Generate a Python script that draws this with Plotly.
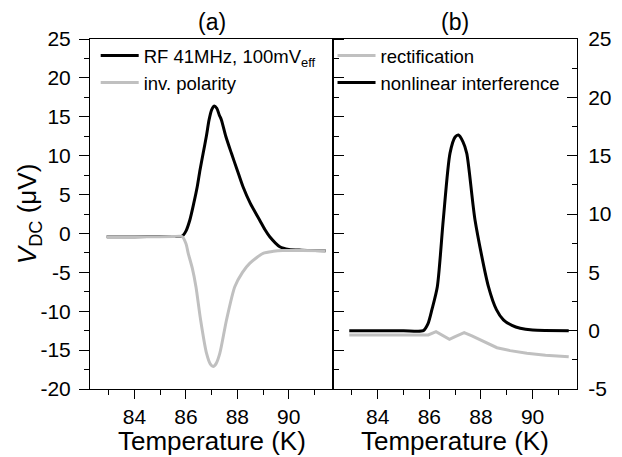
import plotly.graph_objects as go

# ---------------- data ----------------
# panel (a)
a_rf_T = [82.92, 83.5, 84.5, 85.5, 85.85, 86.0, 86.15, 86.3, 86.44, 86.55, 86.67, 86.8, 86.9,
          87.0, 87.1, 87.2, 87.3, 87.38, 87.55, 87.77, 88.0, 88.22, 88.5, 88.87, 89.07, 89.26, 89.65,
          90.0, 90.5, 91.0, 91.43]
a_rf_V = [-0.42, -0.42, -0.4, -0.38, -0.35, 0.3, 1.7, 3.8, 6.0, 8.2, 10.3, 12.6, 14.6,
          15.9, 16.4, 16.1, 15.2, 14.6, 12.5, 10.3, 8.1, 6.0, 3.9, 1.7, 0.5, -0.42, -1.7,
          -2.05, -2.15, -2.2, -2.22]

a_inv_T = [82.92, 83.5, 84.5, 85.5, 85.85, 86.0, 86.09, 86.25, 86.39, 86.57, 86.8, 86.95,
           87.06, 87.18, 87.32, 87.58, 87.9, 88.2, 88.48, 89.0, 89.4, 89.77, 90.5, 91.43]
a_inv_V = [-0.42, -0.42, -0.42, -0.4, -0.4, -1.3, -2.56, -4.5, -6.85, -11.1, -15.4, -16.8,
           -17.1, -16.7, -15.4, -11.1, -6.85, -5.0, -3.85, -2.56, -2.3, -2.2, -2.2, -2.22]

# panel (b)
b_nl_T = [82.9, 84.0, 85.0, 85.77, 85.95, 86.1, 86.31, 86.54, 86.8, 87.0, 87.13, 87.3,
          87.45, 87.77, 88.29, 88.6, 88.87, 89.2, 89.52, 90.0, 91.4]
b_nl_V = [0.0, 0.0, 0.0, 0.0, 0.6, 1.8, 3.77, 9.49, 15.2, 16.6, 16.77, 16.2,
          15.2, 9.49, 3.77, 1.8, 0.92, 0.45, 0.2, 0.05, 0.0]

b_rect_T = [82.9, 84.0, 85.0, 85.96, 86.26, 86.5, 86.78, 87.0, 87.35, 87.65, 87.97, 88.29,
            88.62, 89.13, 89.78, 90.5, 91.4]
b_rect_V = [-0.37, -0.37, -0.37, -0.37, -0.08, -0.4, -0.74, -0.51, -0.17, -0.45, -0.8, -1.14,
            -1.46, -1.71, -1.94, -2.1, -2.23]

x_range = [82.27, 91.72]
x_ticks = [84, 86, 88, 90]
x_ticklabels = ["84", "86", "88", "90"]
ya_range = [-20, 25]
ya_ticks = [-20, -15, -10, -5, 0, 5, 10, 15, 20, 25]
ya_ticklabels = ["-20", "-15", "-10", "-5", "0", "5", "10", "15", "20", "25"]
yb_range = [-5, 25]
yb_ticks = [-5, 0, 5, 10, 15, 20, 25]
yb_ticklabels = ["-5", "0", "5", "10", "15", "20", "25"]

FONT = "Liberation Sans, Arial, Helvetica, sans-serif"
BLACK = "#000000"
GRAY = "#c0c0c0"

fig = go.Figure()
fig.add_trace(go.Scatter(x=a_rf_T, y=a_rf_V, mode="lines", line=dict(color=BLACK, width=3, shape="spline", smoothing=0.7),
                         name="RF 41MHz, 100mV<sub>eff</sub>", xaxis="x", yaxis="y", legend="legend"))
fig.add_trace(go.Scatter(x=a_inv_T, y=a_inv_V, mode="lines", line=dict(color=GRAY, width=3, shape="spline", smoothing=0.7),
                         name="inv. polarity", xaxis="x", yaxis="y", legend="legend"))
fig.add_trace(go.Scatter(x=b_rect_T, y=b_rect_V, mode="lines", line=dict(color=GRAY, width=3),
                         name="rectification", xaxis="x2", yaxis="y2", legend="legend2"))
fig.add_trace(go.Scatter(x=b_nl_T, y=b_nl_V, mode="lines", line=dict(color=BLACK, width=3, shape="spline", smoothing=0.7),
                         name="nonlinear interference", xaxis="x2", yaxis="y2", legend="legend2"))

split = 0.499
TICKFONT = dict(size=21, family=FONT, color="black")

common_x = dict(range=x_range, showgrid=False, zeroline=False, showline=True, linecolor="black",
                linewidth=1, ticks="outside", ticklen=9, tickwidth=1, tickcolor="black",
                tickmode="array", tickvals=x_ticks, ticktext=x_ticklabels, tickfont=TICKFONT,
                minor=dict(dtick=1, tick0=83, ticks="outside", ticklen=5, tickcolor="black", showgrid=False),
                mirror=True, automargin=False)
top_x = dict(range=x_range, showgrid=False, zeroline=False, showline=False, side="top",
             ticks="inside", ticklen=8, tickwidth=1, tickcolor="black", tickmode="array", tickvals=x_ticks,
             showticklabels=False, automargin=False,
             minor=dict(dtick=1, tick0=83, ticks="inside", ticklen=5, tickcolor="black", showgrid=False))

# the page body has an 8px margin, so the figure is sized to fill the rest of the window
fig.update_layout(
    template="none",
    width=614, height=449,
    margin=dict(l=82, r=45, t=31, b=68, autoexpand=False),
    paper_bgcolor="white", plot_bgcolor="white",
    font=dict(family=FONT, color="black"),
    xaxis=dict(domain=[0, split], anchor="y", **common_x),
    xaxis2=dict(domain=[split, 1], anchor="y2", **common_x),
    xaxis3=dict(overlaying="x", anchor="y", **top_x),
    xaxis4=dict(overlaying="x2", anchor="y2", **top_x),
    yaxis=dict(domain=[0, 1], anchor="x", range=ya_range, showgrid=False, zeroline=False,
               showline=True, linecolor="black", linewidth=1, mirror="ticks",
               ticks="outside", ticklen=10, tickwidth=1, tickcolor="black",
               tickmode="array", tickvals=ya_ticks, ticktext=ya_ticklabels, tickfont=TICKFONT,
               ticklabelstandoff=4,
               minor=dict(dtick=2.5, ticks="outside", ticklen=5, tickcolor="black", showgrid=False),
               automargin=False),
    yaxis2=dict(domain=[0, 1], anchor="x2", side="right", range=yb_range, showgrid=False, zeroline=False,
                showline=True, linecolor="black", linewidth=1, mirror=True,
                ticks="inside", ticklen=10, tickwidth=1, tickcolor="black",
                tickmode="array", tickvals=yb_ticks, ticktext=yb_ticklabels, tickfont=TICKFONT,
                ticklabelstandoff=6,
                minor=dict(dtick=2.5, ticks="inside", ticklen=5, tickcolor="black", showgrid=False),
                automargin=False),
    legend=dict(x=0.0117, y=1.006, xanchor="left", yanchor="top", bgcolor="rgba(0,0,0,0)",
                font=dict(size=18.5, family=FONT, color="black"), itemwidth=38, tracegroupgap=0),
    legend2=dict(x=0.498, y=1.006, xanchor="left", yanchor="top", bgcolor="rgba(0,0,0,0)",
                 font=dict(size=18.5, family=FONT, color="black"), itemwidth=38, tracegroupgap=0),
    annotations=[
        dict(text="(a)", x=split / 2, y=1.0486, xref="paper", yref="paper", showarrow=False,
             font=dict(size=23, family=FONT, color="black"), xanchor="center", yanchor="middle"),
        dict(text="(b)", x=(split + 1) / 2, y=1.0486, xref="paper", yref="paper", showarrow=False,
             font=dict(size=23, family=FONT, color="black"), xanchor="center", yanchor="middle"),
        dict(text="Temperature (K)", x=split / 2, y=-0.1486, xref="paper", yref="paper", showarrow=False,
             font=dict(size=26, family=FONT, color="black"), xanchor="center", yanchor="middle"),
        dict(text="Temperature (K)", x=(split + 1) / 2, y=-0.1486, xref="paper", yref="paper", showarrow=False,
             font=dict(size=26, family=FONT, color="black"), xanchor="center", yanchor="middle"),
        dict(text="<i>V</i><sub>DC</sub> (μV)", x=-0.127, y=0.5, xref="paper", yref="paper", showarrow=False,
             textangle=-90, font=dict(size=26, family=FONT, color="black"), xanchor="center", yanchor="middle"),
    ],
    showlegend=True,
)

fig.write_html("out.html")
